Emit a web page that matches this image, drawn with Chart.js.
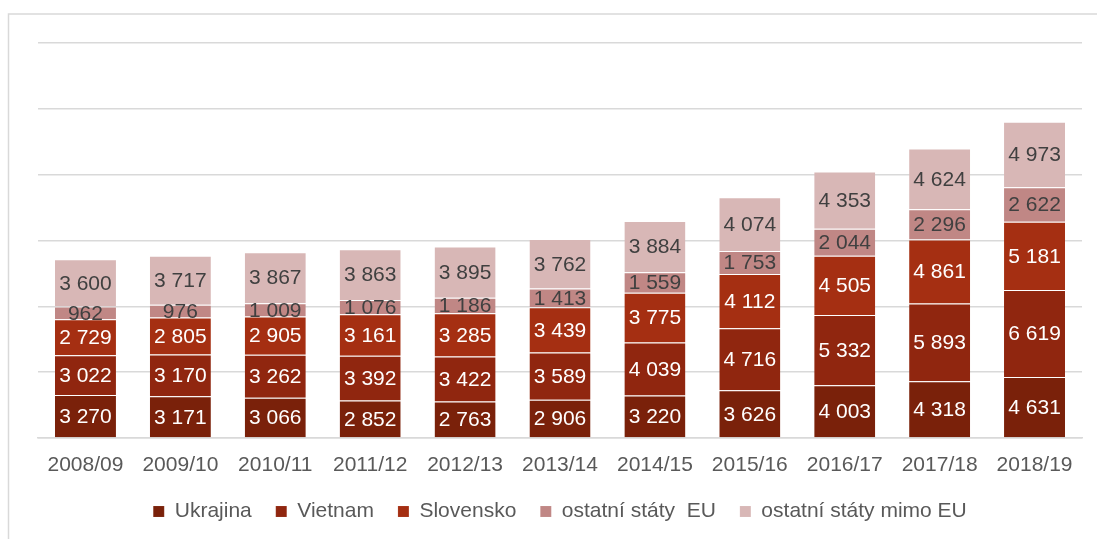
<!DOCTYPE html>
<html><head><meta charset="utf-8">
<script src="https://cdn.jsdelivr.net/npm/chart.js@4/dist/chart.umd.min.js"></script>
<style>html,body{margin:0;padding:0;background:#fff;}#wrap{position:relative;width:1097px;height:539px;}</style>
</head><body><div id="wrap"><canvas id="c" width="1097" height="539"></canvas></div>
<script>
const categories = ["2008/09","2009/10","2010/11","2011/12","2012/13","2013/14","2014/15","2015/16","2016/17","2017/18","2018/19"];
const ukrajina = [3270,3171,3066,2852,2763,2906,3220,3626,4003,4318,4631];
const vietnam = [3022,3170,3262,3392,3422,3589,4039,4716,5332,5893,6619];
const slovensko = [2729,2805,2905,3161,3285,3439,3775,4112,4505,4861,5181];
const ostatniEU = [962,976,1009,1076,1186,1413,1559,1753,2044,2296,2622];
const mimoEU = [3600,3717,3867,3863,3895,3762,3884,4074,4353,4624,4973];
const seriesNames = ["Ukrajina","Vietnam","Slovensko","ostatní státy  EU","ostatní státy mimo EU"];
const colors = ["#7a210a","#90260f","#a52f12","#c08785","#d8b7b6"];
const labelColors = ["#ffffff","#ffffff","#ffffff","#404040","#404040"];
const yTicks = [0,5000,10000,15000,20000,25000,30000];

const FONT = "'Liberation Sans', Arial, sans-serif";
const fmt = v => String(v).replace(/\B(?=(\d{3})+(?!\d))/g, " ");

const frame = {
  id: 'frame',
  beforeDraw(chart) {
    const ctx = chart.ctx;
    ctx.save();
    ctx.strokeStyle = '#d9d9d9';
    ctx.lineWidth = 1.5;
    ctx.beginPath();
    ctx.moveTo(8.5, 539);
    ctx.lineTo(8.5, 14);
    ctx.lineTo(1097, 14);
    ctx.stroke();
    ctx.restore();
  }
};

const valueLabels = {
  id: 'valueLabels',
  afterDatasetsDraw(chart) {
    const ctx = chart.ctx;
    ctx.save();
    ctx.font = "21px " + FONT;
    ctx.textAlign = 'center';
    ctx.textBaseline = 'middle';
    chart.data.datasets.forEach((ds, i) => {
      const meta = chart.getDatasetMeta(i);
      meta.data.forEach((bar, j) => {
        const y = (bar.y + bar.base) / 2;
        ctx.fillStyle = labelColors[i];
        ctx.fillText(fmt(ds.data[j]), bar.x, y + 1);
      });
    });
    ctx.restore();
  }
};

const seriesData = [ukrajina, vietnam, slovensko, ostatniEU, mimoEU];

new Chart(document.getElementById('c'), {
  type: 'bar',
  data: {
    labels: categories,
    datasets: seriesData.map((d, i) => ({
      label: seriesNames[i],
      data: d,
      backgroundColor: colors[i],
      borderColor: 'rgba(255,255,255,0.35)',
      borderWidth: {top: 1, left: 0, right: 0, bottom: 0},
      borderSkipped: false,
      categoryPercentage: 1,
      barPercentage: 0.643
    }))
  },
  options: {
    responsive: false,
    animation: false,
    layout: {padding: {left: 38, right: 15, top: 43, bottom: 7}},
    plugins: {
      legend: {
        position: 'bottom',
        labels: {
          boxWidth: 11, boxHeight: 11,
          color: '#595959',
          font: {size: 21, family: FONT},
          padding: 24
        }
      },
      tooltip: {enabled: false}
    },
    scales: {
      x: {
        stacked: true,
        grid: {display: false, drawTicks: false},
        border: {display: true, color: '#d9d9d9', width: 1.5},
        ticks: {color: '#595959', font: {size: 21, family: FONT}, padding: 15},
        afterFit(s) { s.height = 39; }
      },
      y: {
        stacked: true,
        min: 0, max: 30000,
        afterBuildTicks(s) { s.ticks = yTicks.map(v => ({value: v})); },
        ticks: {display: false},
        grid: {color: '#d9d9d9', lineWidth: 1.5, drawTicks: false},
        border: {display: false}
      }
    }
  },
  plugins: [frame, valueLabels]
});
</script></body></html>
